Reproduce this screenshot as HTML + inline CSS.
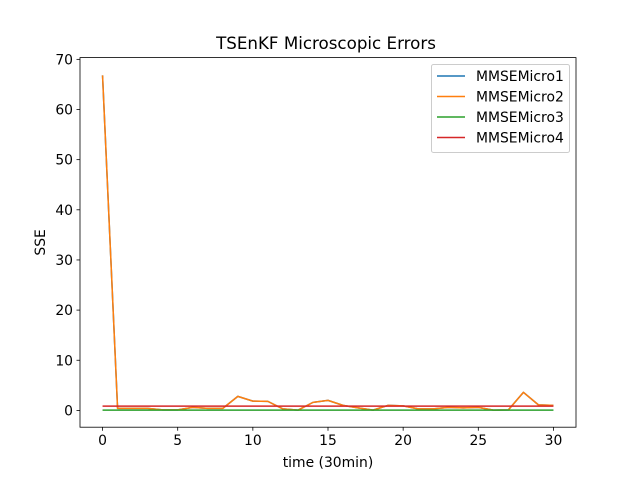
<!DOCTYPE html>
<html><head><meta charset="utf-8"><style>
body{margin:0;background:#fff;}
svg text{font-family:"DejaVu Sans","Liberation Sans",sans-serif;fill:#000;}
</style></head><body>
<svg id="chart" width="640" height="480" xmlns="http://www.w3.org/2000/svg">
<rect width="640" height="480" fill="#fff"/>
<text x="326" y="49" font-size="16.7" text-anchor="middle">TSEnKF Microscopic Errors</text>
<g id="plot"></g>
</svg>
<script>
const xTicks=[0,5,10,15,20,25,30];
const yTicks=[0,10,20,30,40,50,60,70];
const micro1=[66.8,0.4,0.4,0.4,0.1,0.1,0.6,0.4,0.4,2.8,1.85,1.8,0.3,0.05,1.6,2.0,1.0,0.5,0.05,1.0,0.9,0.3,0.3,0.6,0.5,0.6,0.05,0.1,3.6,1.1,1.0];
const micro2=[66.8,0.4,0.4,0.4,0.1,0.1,0.6,0.4,0.4,2.8,1.85,1.8,0.3,0.05,1.6,2.0,1.0,0.5,0.05,1.0,0.9,0.3,0.3,0.6,0.5,0.6,0.05,0.1,3.6,1.1,1.0];
const micro3=[0.05,0.05,0.05,0.05,0.05,0.05,0.05,0.05,0.05,0.05,0.05,0.05,0.05,0.05,0.05,0.05,0.05,0.05,0.05,0.05,0.05,0.05,0.05,0.05,0.05,0.05,0.05,0.05,0.05,0.05,0.05];
const micro4=[0.85,0.85,0.85,0.85,0.85,0.85,0.85,0.85,0.85,0.85,0.85,0.85,0.85,0.85,0.85,0.85,0.85,0.85,0.85,0.85,0.85,0.85,0.85,0.85,0.85,0.85,0.85,0.85,0.85,0.85,0.85];
const seriesNames=["MMSEMicro1","MMSEMicro2","MMSEMicro3","MMSEMicro4"];
const L=80,R=576,T=57.6,B=427.2;
const xmin=-1.5,xmax=31.5,ymin=-3.35,ymax=70.35;
const sx=v=>L+(v-xmin)/(xmax-xmin)*(R-L);
const sy=v=>B-(v-ymin)/(ymax-ymin)*(B-T);
const NS="http://www.w3.org/2000/svg";
const g=document.getElementById('plot');
function mk(t,a){const e=document.createElementNS(NS,t);for(const k in a)e.setAttribute(k,a[k]);g.appendChild(e);return e;}
const colors=["#1f77b4","#ff7f0e","#2ca02c","#d62728"];
const data=[micro1,micro2,micro3,micro4];
data.forEach((d,i)=>{
  const p=mk('polyline',{points:d.map((v,j)=>sx(j)+','+sy(v)).join(' '),fill:'none',stroke:colors[i],'stroke-width':1.5,'stroke-linejoin':'round'});
  
  
});
const frame=mk('rect',{x:L,y:T,width:R-L,height:B-T,fill:'none',stroke:'#000','stroke-width':0.8});


xTicks.forEach(v=>{
  mk('line',{x1:sx(v),x2:sx(v),y1:B,y2:B+3.5,stroke:'#000','stroke-width':0.8});
  const t=mk('text',{x:sx(v),y:B+18,'font-size':13.9,'text-anchor':'middle'});t.textContent=v;
  
  
});
yTicks.forEach(v=>{
  mk('line',{x1:L-3.5,x2:L,y1:sy(v),y2:sy(v),stroke:'#000','stroke-width':0.8});
  const t=mk('text',{x:L-7,y:sy(v)+5,'font-size':13.9,'text-anchor':'end'});t.textContent=v;
  
  
});
const xl=mk('text',{x:(L+R)/2,y:467,'font-size':13.9,'text-anchor':'middle'});xl.textContent='time (30min)';


const yl=mk('text',{x:45,y:(T+B)/2,'font-size':13.9,'text-anchor':'middle',transform:'rotate(-90 45 '+(T+B)/2+')'});yl.textContent='SSE';


const lg=mk('rect',{x:431.5,y:64.5,width:138,height:88,fill:'#fff','fill-opacity':0.8,stroke:'#ccc','stroke-width':1,rx:2});


seriesNames.forEach((n,i)=>{
  const y=76+i*20.5;
  mk('line',{x1:437,x2:465,y1:y,y2:y,stroke:colors[i],'stroke-width':1.5});
  const t=mk('text',{x:476,y:y+5,'font-size':13.9});t.textContent=n;
  
  
});
</script>
</body></html>
